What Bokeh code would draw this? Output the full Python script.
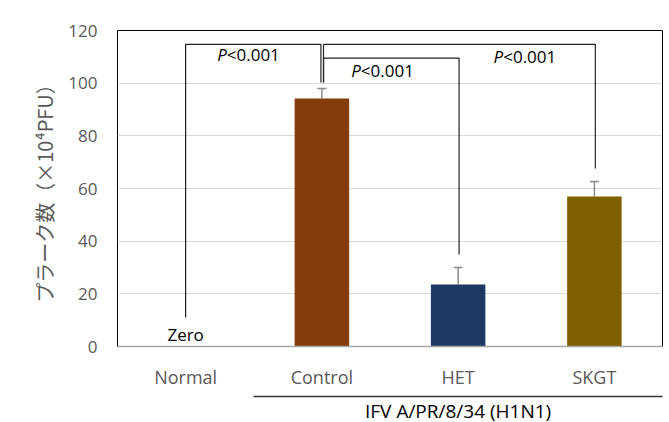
from bokeh.plotting import figure
from bokeh.models import ColumnDataSource, Whisker, TeeHead, FixedTicker, LinearAxis
from bokeh.core.properties import value
from bokeh.embed import file_html
from bokeh.resources import INLINE

# ---- data ----
categories = ["Normal", "Control", "HET", "SKGT"]
plaque = [0.0, 94.2, 23.5, 57.0]
sem = [0.0, 3.8, 6.5, 5.7]
bar_colors = ["#FFFFFF", "#843C0C", "#1F3864", "#7F6000"]
y_ticks = [0, 20, 40, 60, 80, 100, 120]
group_label = "IFV A/PR/8/34 (H1N1)"
group_span = (1, 3)          # categories covered by the group label (Control .. SKGT)
y_title = "プラーク数（×10⁴PFU）"
zero_label = "Zero"
# significance brackets: (left cat idx, right cat idx, top, left leg end, right leg end)
brackets = [
    (0, 1, 114.7, 11.0, 100.3),
    (1, 3, 114.7, 100.3, 67.6),
    (1, 2, 109.5, 100.3, 34.9),
]
sig_texts = [("P", "<0.001", 0.956, 110.9), ("P", "<0.001", 2.985, 110.1), ("P", "<0.001", 1.94, 104.8)]

FONT = "Open Sans"
GRAY = "#595959"

xs = [i + 0.5 for i in range(len(categories))]
src = ColumnDataSource(dict(x=xs, top=plaque, color=bar_colors))
wx = [x for x, s in zip(xs, sem) if s > 0]
wl = [v for v, s in zip(plaque, sem) if s > 0]
wu = [v + s for v, s in zip(plaque, sem) if s > 0]
wsrc = ColumnDataSource(dict(x=wx, lower=wl, upper=wu))

p = figure(x_range=(0, 4), y_range=(0, 120), output_backend="svg", toolbar_location=None,
           frame_width=545, frame_height=316,
           min_border_left=117, min_border_right=7, min_border_top=30, min_border_bottom=0)
p.background_fill_color = "white"
p.border_fill_color = "white"
p.outline_line_color = "black"
p.outline_line_width = 1

p.vbar(x="x", top="top", width=0.4, color="color", line_color=None, source=src)
p.add_layout(Whisker(source=wsrc, base="x", lower="lower", upper="upper", dimension="height",
                     line_color="#8c8c8c", line_width=1.5, lower_head=None,
                     upper_head=TeeHead(size=9, line_color="#8c8c8c", line_width=1.5)))

# brackets
for (a, b, top, la, rb) in brackets:
    xa = xs[a] + (0.0 if a == 0 else 0.012)
    xb = xs[b] - 0.007 if a == 0 else xs[b] + 0.007
    p.line([xa, xa, xb, xb], [la, top, top, rb], line_color="#222222", line_width=1.2)

for (pt, rest, x, y) in sig_texts:
    p.text(x=[x], y=[y], text=[pt], text_font=value(FONT), text_font_size="17px",
           text_font_style="italic", text_align="right", text_baseline="middle",
           x_offset=-21, text_color="black")
    p.text(x=[x], y=[y], text=[rest], text_font=value(FONT), text_font_size="17px",
           text_align="left", text_baseline="middle", x_offset=-21, text_color="black")

p.text(x=[xs[0]], y=[4.6], text=[zero_label], text_font=value(FONT), text_font_size="17px",
       text_align="center", text_baseline="middle", text_color="black")

# category axis
xa0 = p.xaxis[0]
xa0.ticker = FixedTicker(ticks=xs)
xa0.major_label_overrides = {x: c for x, c in zip(xs, categories)}
xa0.major_tick_line_color = None
xa0.minor_tick_line_color = None
xa0.axis_line_color = "#a6a6a6"
xa0.axis_line_width = 1.5
xa0.major_label_text_font = FONT
xa0.major_label_text_font_size = "18px"
xa0.major_label_text_color = GRAY
xa0.major_label_standoff = 12
xa0.axis_label = "\u00a0"
xa0.axis_label_text_font_size = "2px"
xa0.axis_label_standoff = 0

# group axis (second level of categories)
gx = (group_span[0] + group_span[1] + 1) / 2
ax2 = LinearAxis(ticker=FixedTicker(ticks=[gx]), major_label_overrides={gx: group_label},
                 bounds=(group_span[0], group_span[1] + 1),
                 axis_line_color="#333333", axis_line_width=1.5,
                 major_tick_line_color=None, minor_tick_line_color=None,
                 major_label_text_font=FONT, major_label_text_font_size="19px",
                 major_label_text_color="black", major_label_standoff=-5)
p.add_layout(ax2, "below")

p.yaxis.ticker = FixedTicker(ticks=y_ticks)
p.yaxis.major_tick_line_color = None
p.yaxis.minor_tick_line_color = None
p.yaxis.axis_line_color = None
p.yaxis.major_label_text_font = FONT
p.yaxis.major_label_text_font_size = "17px"
p.yaxis.major_label_text_color = GRAY
p.yaxis.major_label_standoff = 14
p.yaxis.axis_label = y_title
p.yaxis.axis_label_text_font = "Noto Sans CJK JP"
p.yaxis.axis_label_text_font_size = "20px"
p.yaxis.axis_label_text_font_style = "normal"
p.yaxis.axis_label_text_color = GRAY
p.yaxis.axis_label_standoff = 6

p.xgrid.grid_line_color = None
p.ygrid.grid_line_color = "#d9d9d9"
p.ygrid.grid_line_width = 1

open("out.html", "w").write(file_html(p, INLINE))
